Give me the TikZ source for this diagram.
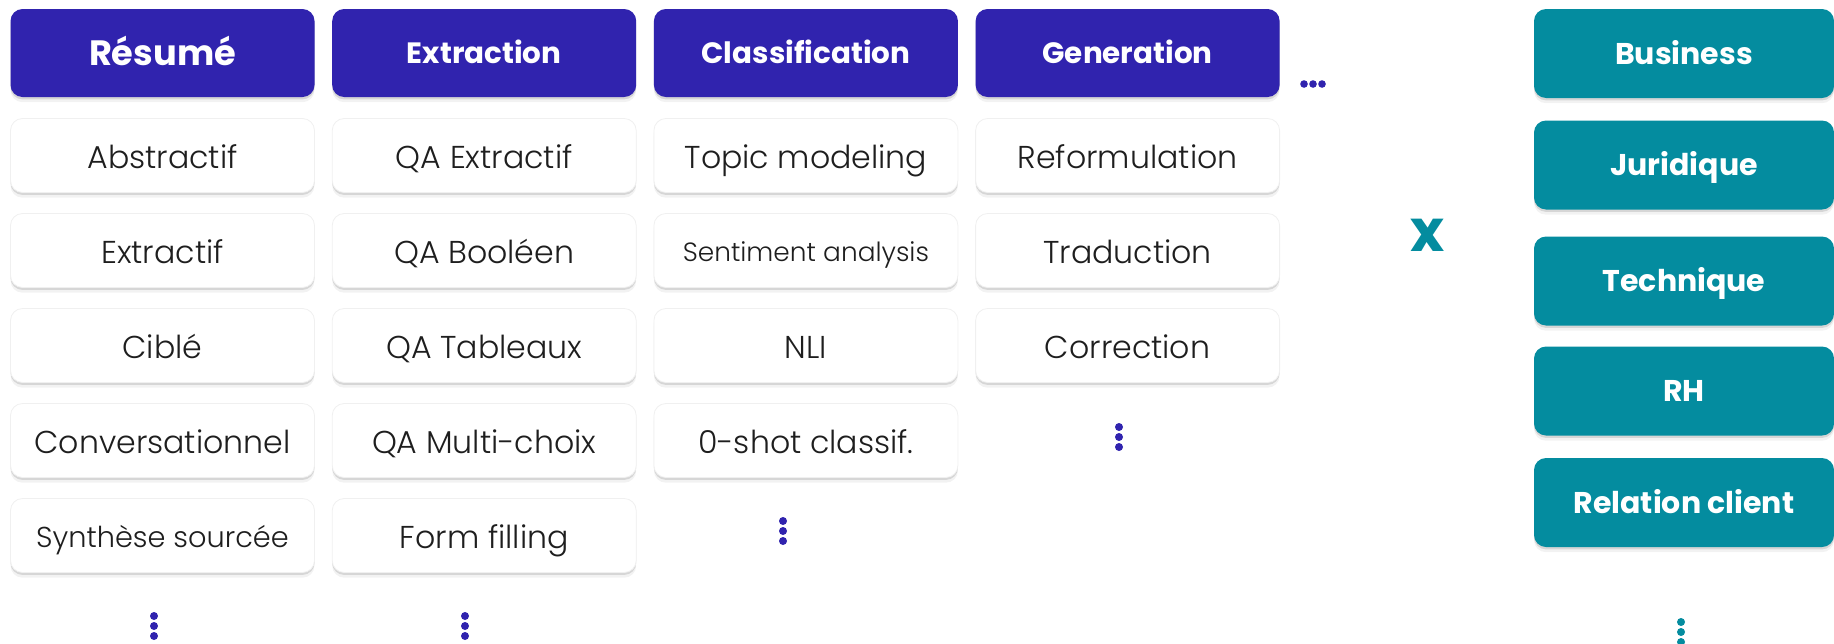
\documentclass[tikz,border=0pt]{standalone}
\usepackage{fontspec}
\IfFontExistsTF{Poppins Light}
  {\setmainfont{Poppins Light}[BoldFont=Poppins Bold]}
  {\setmainfont{Poppins}}
\usetikzlibrary{shadows}
\definecolor{indig}{HTML}{3023AE}
\definecolor{tealc}{HTML}{048C9F}
\definecolor{txt}{HTML}{1E1E1E}
\tikzset{
  box/.style={rounded corners=6pt, inner sep=0pt, align=center,
    drop shadow={shadow xshift=0pt, shadow yshift=-1.2pt, opacity=.25},
    drop shadow={shadow xshift=0pt, shadow yshift=-2.6pt, opacity=.10}},
  hdr/.style={box, fill=indig, text=white, minimum width=152pt, minimum height=44pt,
    font=\bfseries\fontsize{14.7}{16}\selectfont, text height=10.8pt, text depth=0pt},
  itm/.style={box, fill=white, draw=black!6, text=txt, minimum width=152pt, minimum height=37pt,
    font=\fontsize{15.8}{18}\selectfont, text height=13pt, text depth=0pt},
  dom/.style={box, fill=tealc, text=white, minimum width=150pt, minimum height=44.5pt,
    font=\bfseries\fontsize{15}{17}\selectfont, text height=10.8pt, text depth=0pt},
}
\begin{document}
\begin{tikzpicture}[x=0.5pt, y=-0.5pt]
\clip (0,0) rectangle (1834,643);
% headers
\node[hdr, font=\bfseries\fontsize{17.6}{19}\selectfont, text height=12.6pt] (h1) at (162.5,53) {Résumé};
\node[hdr] (h2) at (484.2,53) {Extraction};
\node[hdr] (h3) at (805.9,53) {Classification};
\node[hdr] (h4) at (1127.6,53) {Generation};
% column 1
\node[itm] (a1) at (162.5,155.5) {Abstractif};
\node[itm] (a2) at (162.5,250.5) {Extractif};
\node[itm] (a3) at (162.5,345.5) {Ciblé};
\node[itm] (a4) at (162.5,440.5) {Conversationnel};
\node[itm, font=\fontsize{14.4}{16}\selectfont, text height=11.8pt] (a5) at (162.5,535.5) {Synthèse sourcée};
% column 2
\node[itm] (b1) at (484.2,155.5) {QA Extractif};
\node[itm] (b2) at (484.2,250.5) {QA Booléen};
\node[itm] (b3) at (484.2,345.5) {QA Tableaux};
\node[itm] (b4) at (484.2,440.5) {QA Multi-choix};
\node[itm] (b5) at (484.2,535.5) {Form filling};
% column 3
\node[itm] (c1) at (805.9,155.5) {Topic modeling};
\node[itm, font=\fontsize{13.2}{15}\selectfont, text height=10.8pt] (c2) at (805.9,250.5) {Sentiment analysis};
\node[itm] (c3) at (805.9,345.5) {NLI};
\node[itm] (c4) at (805.9,440.5) {0-shot classif.};
% column 4
\node[itm] (d1) at (1127.6,155.5) {Reformulation};
\node[itm] (d2) at (1127.6,250.5) {Traduction};
\node[itm] (d3) at (1127.6,345.5) {Correction};
% domains
\node[dom] (e1) at (1684,53.5) {Business};
\node[dom] (e2) at (1684,165) {Juridique};
\node[dom] (e3) at (1684,281) {Technique};
\node[dom] (e4) at (1684,391) {RH};
\node[dom] (e5) at (1684,502.5) {Relation client};
% times sign
\node[text=tealc, font=\bfseries\fontsize{29}{29}\selectfont, inner sep=0pt] (times) at (1428,235) {x};
% ellipses
\foreach \x/\y in {154/616, 465/616, 783/521, 1119/427}{
  \foreach \k in {0,1,2} \fill[indig] (\x,\y+10*\k) circle (2pt);
}
\foreach \k in {0,1,2} \fill[indig] (1304+9*\k,84) circle (1.9pt);
\foreach \k in {0,1,2} \fill[tealc] (1681,622+10*\k) circle (2pt);
\end{tikzpicture}
\end{document}
